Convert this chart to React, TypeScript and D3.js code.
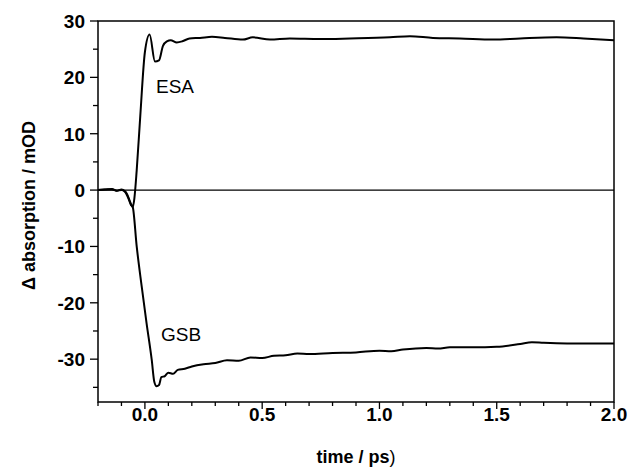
import React, { useEffect, useRef } from 'react';
import * as d3 from 'd3';

// ESA trace (time in ps, signal in mOD)
const esaTime = [-0.2, -0.17, -0.14, -0.12, -0.1, -0.085, -0.075, -0.062, -0.052, -0.045, -0.035, -0.02, 0.0, 0.02,
  0.043, 0.06, 0.077, 0.094, 0.11, 0.136, 0.16, 0.19, 0.235, 0.286, 0.341, 0.418, 0.46, 0.533, 0.618, 0.746,
  0.874, 1.045, 1.13, 1.228, 1.343, 1.484, 1.6, 1.755, 1.87, 2.0];
const esaValue = [0, 0.1, 0.2, -0.1, 0.1, -0.2, -0.8, -2.2, -3.0, -1.5, 3.5, 13, 24.5, 27.6,
  22.8, 23.0, 25.6, 26.4, 26.6, 26.2, 26.4, 26.9, 27.0, 27.2, 27.0, 26.7, 27.1, 26.7, 26.9, 26.8,
  26.9, 27.1, 27.3, 27.0, 26.9, 26.7, 26.9, 27.1, 26.9, 26.6];

// GSB trace
const gsbTime = [-0.2, -0.17, -0.14, -0.12, -0.1, -0.085, -0.07, -0.06, -0.052, -0.035, -0.014, 0.007, 0.029,
  0.04, 0.05, 0.06, 0.07, 0.085, 0.1, 0.12, 0.14, 0.17, 0.2, 0.25, 0.3, 0.35, 0.4, 0.45, 0.5, 0.55, 0.6,
  0.65, 0.7, 0.8, 0.9, 1.0, 1.05, 1.1, 1.2, 1.25, 1.3, 1.4, 1.5, 1.6, 1.65, 1.7, 1.8, 1.9, 2.0];
const gsbValue = [0, 0.1, 0.1, -0.1, 0, -0.3, -1.5, -2.6, -3.0, -10, -17, -23.6, -30.1,
  -34.0, -34.8, -34.6, -33.2, -33.0, -32.4, -32.6, -31.9, -31.7, -31.3, -30.9, -30.7, -30.2, -30.3, -29.7, -29.8, -29.4, -29.3,
  -29.0, -29.1, -28.9, -28.8, -28.5, -28.6, -28.3, -28.0, -28.1, -27.9, -27.9, -27.8, -27.3, -27.0, -27.1, -27.2, -27.2, -27.2];

const xTicks = [0, 0.5, 1.0, 1.5, 2.0];
const yTicks = [30, 20, 10, 0, -10, -20, -30];

const W = 632;
const H = 472;

export default function App() {
  const ref = useRef<SVGSVGElement>(null);

  useEffect(() => {
    document.body.style.margin = '0';
    const svg = d3.select(ref.current);
    svg.selectAll('*').remove();

    const left = 98, right = 614, top = 21, bottom = 402;
    const x = d3.scaleLinear().domain([-0.2, 2.0]).range([left, right]);
    const y = d3.scaleLinear().domain([-37.6, 30]).range([bottom, top]);
    const font = 'Liberation Sans, Arial, sans-serif';

    // zero line
    svg.append('line')
      .attr('x1', left).attr('x2', right)
      .attr('y1', y(0)).attr('y2', y(0))
      .attr('stroke', '#000').attr('stroke-width', 1.2);

    // traces
    const path = d3.line().curve(d3.curveMonotoneX);
    const esa = esaTime.map((t, i) => [x(t), y(esaValue[i])] as [number, number]);
    const gsb = gsbTime.map((t, i) => [x(t), y(gsbValue[i])] as [number, number]);
    [esa, gsb].forEach(pts => {
      svg.append('path')
        .attr('d', path(pts))
        .attr('fill', 'none')
        .attr('stroke', '#000')
        .attr('stroke-width', 2)
        .attr('stroke-linejoin', 'round');
    });

    // frame
    svg.append('rect')
      .attr('x', left).attr('y', top)
      .attr('width', right - left).attr('height', bottom - top)
      .attr('fill', 'none')
      .attr('stroke', '#000')
      .attr('stroke-width', 1.5);

    // y axis ticks
    d3.range(-35, 31, 5).forEach(v => {
      const major = v % 10 === 0;
      svg.append('line')
        .attr('x1', left - (major ? 8 : 5)).attr('x2', left)
        .attr('y1', y(v)).attr('y2', y(v))
        .attr('stroke', '#000').attr('stroke-width', 1.3);
    });
    yTicks.forEach(v => {
      svg.append('text')
        .attr('x', 85).attr('y', y(v))
        .attr('dy', '0.36em')
        .attr('text-anchor', 'end')
        .attr('font-family', font)
        .attr('font-weight', 'bold')
        .attr('font-size', 19)
        .text(String(v));
    });

    // x axis ticks
    d3.range(-2, 21).map(i => i / 10).forEach(v => {
      const major = Math.abs(Math.round(v * 10) % 5) === 0;
      svg.append('line')
        .attr('x1', x(v)).attr('x2', x(v))
        .attr('y1', bottom).attr('y2', bottom + (major ? 7 : 4))
        .attr('stroke', '#000').attr('stroke-width', 1.3);
    });
    xTicks.forEach(v => {
      svg.append('text')
        .attr('x', x(v)).attr('y', 421)
        .attr('text-anchor', 'middle')
        .attr('font-family', font)
        .attr('font-weight', 'bold')
        .attr('font-size', 19)
        .text(v.toFixed(1));
    });

    // axis titles
    const xt = svg.append('text')
      .attr('x', (left + right) / 2).attr('y', 463)
      .attr('text-anchor', 'middle')
      .attr('font-family', font)
      .attr('font-size', 18);
    xt.append('tspan').attr('font-weight', 'bold').text('time / ps');
    xt.append('tspan').text(')');

    svg.append('text')
      .attr('transform', `translate(35,${(top + bottom) / 2 - 6}) rotate(-90)`)
      .attr('text-anchor', 'middle')
      .attr('font-family', font)
      .attr('font-weight', 'bold')
      .attr('font-size', 18)
      .text('Δ absorption / mOD');

    // trace labels
    svg.append('text')
      .attr('x', 156).attr('y', 93)
      .attr('font-family', font).attr('font-size', 19)
      .text('ESA');
    svg.append('text')
      .attr('x', 161).attr('y', 341)
      .attr('font-family', font).attr('font-size', 19)
      .text('GSB');
  }, []);

  return <svg ref={ref} width={W} height={H} style={{ display: 'block', background: '#fff' }} />;
}
